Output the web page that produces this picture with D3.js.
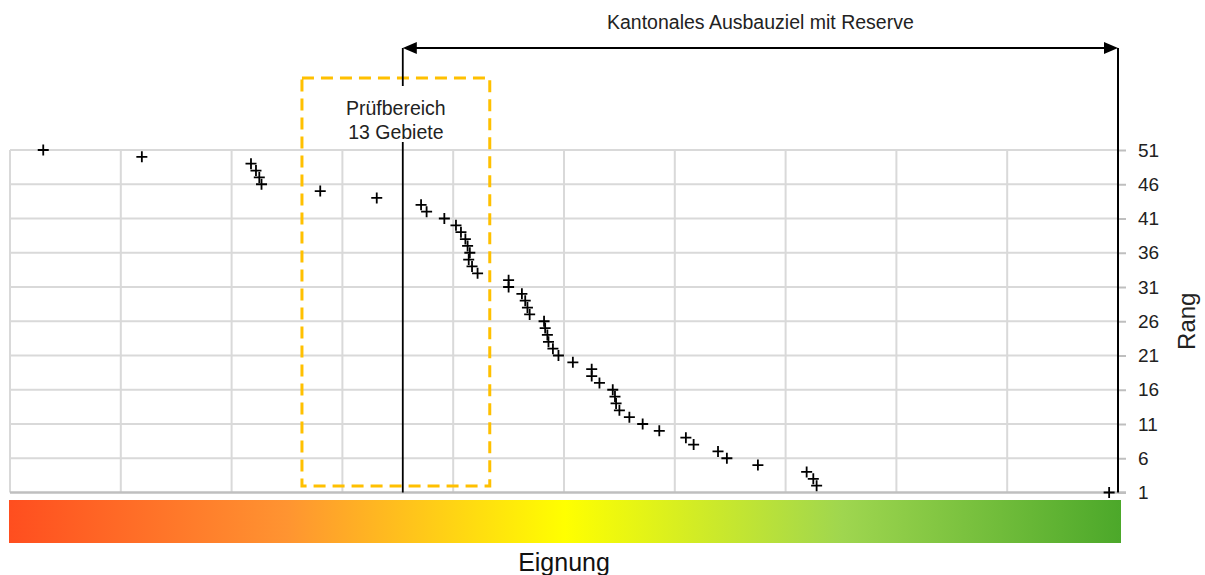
<!DOCTYPE html>
<html>
<head>
<meta charset="utf-8">
<script src="https://cdn.jsdelivr.net/npm/d3@7"></script>
<style>
    body { margin: 0; background: white; }
    svg { font-family: "Liberation Sans", Arial, sans-serif; }
</style>
</head>
<body>
<svg id="chart" width="1205" height="575"></svg>
<script>
// Eignung (suitability score) per area, sorted by Rang 1 .. 51
const eignung = [
    99.2, 72.8, 72.5, 71.9, 67.5, 64.7, 63.9, 61.7, 61.0, 58.6,
    57.1, 55.9, 55.0, 54.7, 54.6, 54.4, 53.2, 52.5, 52.5, 50.8,
    49.5, 49.0, 48.6, 48.5, 48.3, 48.2, 46.9, 46.7, 46.5, 46.2,
    45.0, 45.0, 42.2, 41.7, 41.4, 41.5, 41.3, 41.1, 40.7, 40.25,
    39.2, 37.6, 37.1, 33.1, 28.0, 22.7, 22.5, 22.2, 21.75, 11.9,
    3.0
];
const rangTicks = [1, 6, 11, 16, 21, 26, 31, 36, 41, 46, 51];
const xGrid = [0, 10, 20, 30, 40, 50, 60, 70, 80, 90, 100];

// annotation ranges on the Eignung axis
const pruefbereich = [26.35, 43.3];
const ausbauziel = [35.45, 100];
const pruefLabel = ["Prüfbereich", "13 Gebiete"];
const ausbauLabel = "Kantonales Ausbauziel mit Reserve";

// colour ramp for the Eignung bar
const rampStops = [
    { offset: 0, color: "#ff4e1f" },
    { offset: 0.25, color: "#ff9431" },
    { offset: 0.5, color: "#ffff00" },
    { offset: 0.75, color: "#9fd64f" },
    { offset: 1, color: "#4ca82a" }
];

const svg = d3.select("#chart");
const plotLeft = 10, plotRight = 1118, plotTop = 150, plotBottom = 492.5;

const x = d3.scaleLinear().domain([0, 100]).range([plotLeft, plotRight]);
const y = d3.scaleLinear().domain([1, 51]).range([plotBottom, plotTop]);

// grid
svg.append("g").selectAll("line")
    .data(rangTicks.slice(1))
    .enter().append("line")
    .attr("x1", plotLeft).attr("x2", plotRight)
    .attr("y1", d => y(d)).attr("y2", d => y(d))
    .attr("stroke", "#d9d9d9").attr("stroke-width", 2);

svg.append("g").selectAll("line")
    .data(xGrid)
    .enter().append("line")
    .attr("x1", d => x(d)).attr("x2", d => x(d))
    .attr("y1", plotTop).attr("y2", plotBottom)
    .attr("stroke", "#d9d9d9").attr("stroke-width", 2);

// bottom base line
svg.append("line")
    .attr("x1", plotLeft).attr("x2", plotRight + 8)
    .attr("y1", plotBottom).attr("y2", plotBottom)
    .attr("stroke", "#bfbfbf").attr("stroke-width", 2.5);

// Pruefbereich dashed box
svg.append("rect")
    .attr("x", x(pruefbereich[0]))
    .attr("y", 78)
    .attr("width", x(pruefbereich[1]) - x(pruefbereich[0]))
    .attr("height", 486 - 78)
    .attr("fill", "none")
    .attr("stroke", "#ffc000")
    .attr("stroke-width", 3)
    .attr("stroke-dasharray", "12,7");

// Ausbauziel: vertical bounds and double arrow
const arrowY = 48;
svg.append("line")
    .attr("x1", x(ausbauziel[0])).attr("x2", x(ausbauziel[0]))
    .attr("y1", arrowY).attr("y2", plotBottom)
    .attr("stroke", "black").attr("stroke-width", 1.8);

// white patch behind Pruefbereich label
svg.append("rect")
    .attr("x", 335).attr("y", 86)
    .attr("width", 122).attr("height", 56)
    .attr("fill", "white");

svg.append("g")
    .attr("text-anchor", "middle")
    .attr("font-size", 19.5)
    .attr("fill", "#222")
    .selectAll("text")
    .data(pruefLabel)
    .enter().append("text")
    .attr("x", x((pruefbereich[0] + pruefbereich[1]) / 2))
    .attr("y", (d, i) => 115 + i * 24)
    .text(d => d);

svg.append("line")
    .attr("x1", x(ausbauziel[0]) + 6).attr("x2", x(ausbauziel[1]) - 6)
    .attr("y1", arrowY).attr("y2", arrowY)
    .attr("stroke", "black").attr("stroke-width", 2);

const ah = 14, aw = 6;
svg.append("path")
    .attr("d", `M${x(ausbauziel[0])},${arrowY}l${ah},${-aw}v${2 * aw}z`)
    .attr("fill", "black");
svg.append("path")
    .attr("d", `M${x(ausbauziel[1])},${arrowY}l${-ah},${-aw}v${2 * aw}z`)
    .attr("fill", "black");

svg.append("text")
    .attr("x", x((ausbauziel[0] + ausbauziel[1]) / 2))
    .attr("y", 29)
    .attr("text-anchor", "middle")
    .attr("font-size", 19.5)
    .attr("fill", "#222")
    .text(ausbauLabel);

// right axis (Rang)
const yAxis = d3.axisRight(y)
    .tickValues(rangTicks)
    .tickSize(8)
    .tickPadding(12)
    .tickFormat(d3.format("d"));

const axisG = svg.append("g")
    .attr("transform", `translate(${plotRight}, 0)`)
    .call(yAxis);
axisG.select(".domain").remove();
axisG.append("line")
    .attr("x1", 0).attr("x2", 0)
    .attr("y1", arrowY).attr("y2", plotBottom)
    .attr("stroke", "black").attr("stroke-width", 2);
axisG.selectAll(".tick line").attr("stroke", "#bfbfbf").attr("stroke-width", 2);
axisG.selectAll(".tick text")
    .attr("font-size", 19)
    .attr("font-family", "Liberation Sans, Arial, sans-serif")
    .attr("fill", "#222");

svg.append("text")
    .attr("transform", `translate(1195, ${y(26)}) rotate(-90)`)
    .attr("text-anchor", "middle")
    .attr("font-size", 24)
    .attr("fill", "#222")
    .text("Rang");

// points
svg.append("g").selectAll("path")
    .data(eignung)
    .enter().append("path")
    .attr("transform", (d, i) => `translate(${x(d)}, ${y(i + 1)})`)
    .attr("d", "M-5.5,0H5.5M0,-5.5V5.5")
    .attr("stroke", "black")
    .attr("stroke-width", 1.8)
    .attr("fill", "none");

// Eignung colour bar
const grad = svg.append("defs").append("linearGradient")
    .attr("id", "ramp")
    .attr("x1", "0%").attr("x2", "100%");
grad.selectAll("stop")
    .data(rampStops)
    .enter().append("stop")
    .attr("offset", d => d.offset)
    .attr("stop-color", d => d.color);

svg.append("rect")
    .attr("x", 9).attr("y", 500)
    .attr("width", 1121 - 9).attr("height", 43)
    .attr("fill", "url(#ramp)");

svg.append("text")
    .attr("x", x(50))
    .attr("y", 571)
    .attr("text-anchor", "middle")
    .attr("font-size", 25)
    .attr("fill", "#111")
    .text("Eignung");
</script>
</body>
</html>
